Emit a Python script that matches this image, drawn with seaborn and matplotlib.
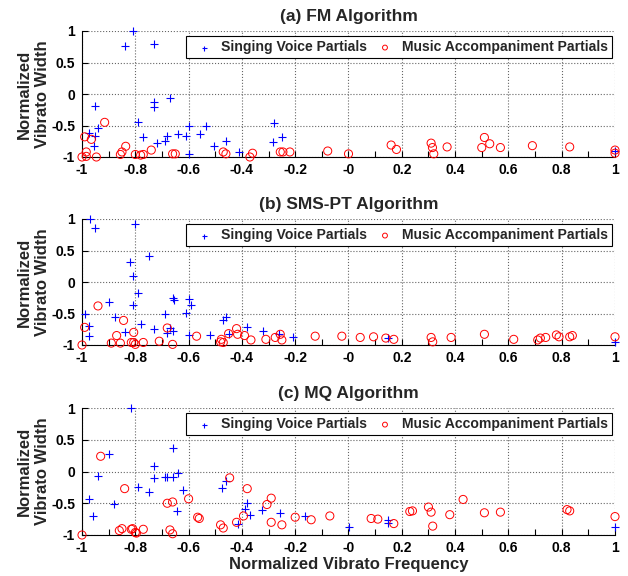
import numpy as np
import matplotlib
matplotlib.use("Agg")
import matplotlib.pyplot as plt
import matplotlib.ticker as mticker
import seaborn as sns

# (a) FM Algorithm
fm_voice_x = [-0.81, -0.84, -0.73, -0.95, -0.73, -0.73, -0.67, -0.79, -0.94, -0.975,
              -0.95, -0.956, -0.77, -0.72, -0.69, -0.68, -0.64, -0.61, -0.60, -0.535,
              -0.556, -0.60, -0.506, -0.46, -0.41, -0.28, -0.285, -0.25, 1.0]
fm_voice_y = [1.0, 0.76, 0.79, -0.19, -0.12, -0.21, -0.06, -0.44, -0.54, -0.62,
              -0.67, -0.83, -0.68, -0.78, -0.74, -0.66, -0.64, -0.67, -0.51, -0.51,
              -0.63, -0.95, -0.82, -0.745, -0.92, -0.46, -0.76, -0.68, -0.9]
fm_music_x = [-0.915, -0.99, -0.965, -1.0, -0.984, -0.984, -0.946, -0.836, -0.856, -0.85,
              -0.80, -0.77, -0.78, -0.74, -0.66, -0.65, -0.47, -0.46, -0.37, -0.36,
              -0.256, -0.246, -0.22, -0.078, 0.0, 0.16, 0.18, 0.31, 0.315, 0.32,
              0.37, 0.51, 0.50, 0.53, 0.57, 0.69, 0.83, 1.0, 1.0]
fm_music_y = [-0.45, -0.68, -0.72, -1.0, -0.92, -0.99, -1.0, -0.83, -0.96, -0.92,
              -0.96, -0.96, -0.97, -0.89, -0.95, -0.95, -0.92, -0.95, -1.0, -0.94,
              -0.92, -0.92, -0.92, -0.905, -0.95, -0.81, -0.88, -0.78, -0.85, -0.95,
              -0.84, -0.69, -0.85, -0.79, -0.85, -0.82, -0.84, -0.89, -0.94]

# (b) SMS-PT Algorithm
sms_voice_x = [-0.97, -0.95, -0.80, -0.75, -0.82, -0.81, -0.79, -0.90, -0.81, -0.99,
               -0.875, -0.975, -0.975, -0.78, -0.84, -0.73, -0.69, -0.68, -0.67, -0.66,
               -0.66, -0.656, -0.60, -0.59, -0.61, -0.60, -0.52, -0.47, -0.46, -0.45,
               -0.38, -0.32, -0.26, -0.21, 0.15, 1.0]
sms_voice_y = [1.0, 0.86, 0.92, 0.42, 0.32, 0.09, -0.17, -0.32, -0.36, -0.5,
               -0.55, -0.70, -0.85, -0.67, -0.80, -0.75, -0.51, -0.81, -0.73, -0.77,
               -0.25, -0.28, -0.27, -0.37, -0.49, -0.84, -0.84, -0.61, -0.55, -0.83,
               -0.71, -0.78, -0.83, -0.88, -0.89, -0.95]
sms_music_x = [-0.94, -0.99, -1.0, -0.844, -0.87, -0.89, -0.856, -0.806, -0.815, -0.806,
               -0.80, -0.77, -0.71, -0.68, -0.66, -0.57, -0.48, -0.477, -0.47, -0.45,
               -0.42, -0.416, -0.39, -0.366, -0.31, -0.275, -0.256, -0.25, -0.125, -0.025,
               0.044, 0.094, 0.14, 0.17, 0.31, 0.316, 0.385, 0.51, 0.62, 0.71,
               0.72, 0.74, 0.78, 0.79, 0.83, 0.84, 1.0]
sms_music_y = [-0.38, -0.72, -1.0, -0.61, -0.85, -0.97, -0.97, -0.80, -0.96, -0.96,
               -0.99, -0.96, -0.94, -0.73, -0.99, -0.86, -0.95, -0.91, -0.96, -0.82,
               -0.74, -0.83, -0.85, -0.92, -0.91, -0.88, -0.83, -0.92, -0.86, -0.86,
               -0.88, -0.87, -0.89, -0.91, -0.88, -0.95, -0.88, -0.83, -0.91, -0.92,
               -0.89, -0.88, -0.84, -0.87, -0.87, -0.85, -0.87]

# (c) MQ Algorithm
mq_voice_x = [-0.816, -0.90, -0.94, -0.975, -0.96, -0.88, -0.79, -0.75, -0.73, -0.73,
              -0.69, -0.68, -0.66, -0.66, -0.64, -0.62, -0.644, -0.475, -0.46, -0.416,
              -0.38, -0.39, -0.37, -0.325, -0.256, -0.165, 0.0, 0.15, 0.15, 1.0]
mq_voice_y = [1.0, 0.27, -0.07, -0.44, -0.70, -0.51, -0.24, -0.33, 0.09, -0.11,
              -0.08, -0.08, -0.08, 0.37, -0.02, -0.29, -0.62, -0.26, -0.15, -0.83,
              -0.49, -0.59, -0.69, -0.61, -0.65, -0.70, -0.88, -0.76, -0.81, -0.88]
mq_music_x = [-0.93, -0.84, -1.0, -0.86, -0.85, -0.815, -0.81, -0.80, -0.796, -0.77,
              -0.68, -0.66, -0.67, -0.66, -0.60, -0.566, -0.56, -0.48, -0.47, -0.446,
              -0.38, -0.42, -0.394, -0.306, -0.29, -0.29, -0.25, -0.2, -0.14, -0.07,
              0.085, 0.11, 0.17, 0.23, 0.24, 0.30, 0.31, 0.316, 0.38, 0.43,
              0.51, 0.57, 0.82, 0.83, 1.0]
mq_music_y = [0.24, -0.27, -1.0, -0.93, -0.90, -0.91, -0.90, -0.96, -0.97, -0.91,
              -0.50, -0.48, -0.92, -0.98, -0.43, -0.72, -0.74, -0.84, -0.89, -0.10,
              -0.27, -0.80, -0.70, -0.52, -0.42, -0.80, -0.84, -0.72, -0.76, -0.70,
              -0.74, -0.75, -0.82, -0.63, -0.62, -0.56, -0.64, -0.86, -0.68, -0.44,
              -0.65, -0.64, -0.60, -0.62, -0.71]

panels = [
    ("(a) FM Algorithm", fm_voice_x, fm_voice_y, fm_music_x, fm_music_y),
    ("(b) SMS-PT Algorithm", sms_voice_x, sms_voice_y, sms_music_x, sms_music_y),
    ("(c) MQ Algorithm", mq_voice_x, mq_voice_y, mq_music_x, mq_music_y),
]

sns.set_style("ticks")
plt.rcParams["font.family"] = ["Liberation Sans", "DejaVu Sans"]
plt.rcParams["font.weight"] = "bold"
plt.rcParams["axes.unicode_minus"] = False

fig = plt.figure(figsize=(6.28, 5.76), dpi=100)
W, H = 628, 576
left, right = 82, 615
tops = [31, 219, 408]
bottoms = [157, 345, 535]

for i, (title, vx, vy, mx, my) in enumerate(panels):
    ax = fig.add_axes([left / W, 1 - bottoms[i] / H, (right - left) / W,
                       (bottoms[i] - tops[i]) / H])
    sns.scatterplot(x=vx, y=vy, marker="+", color="#0000FF", s=36, linewidth=0.8,
                    ax=ax, label="Singing Voice Partials", clip_on=False, zorder=3)
    sns.scatterplot(x=mx, y=my, marker="o", color="#FF0000", facecolor="none",
                    edgecolor="#FF0000", s=34, linewidth=0.7, ax=ax,
                    label="Music Accompaniment Partials", clip_on=False, zorder=3)
    ax.set_xlim(-1, 1)
    ax.set_ylim(-1, 1)
    ax.set_xticks(np.arange(-1, 1.01, 0.2))
    ax.set_yticks([-1, -0.5, 0, 0.5, 1])
    ax.xaxis.set_minor_locator(mticker.MultipleLocator(0.1))
    fmt = mticker.FuncFormatter(lambda v, p: f"{round(v, 2):g}")
    ax.xaxis.set_major_formatter(fmt)
    ax.yaxis.set_major_formatter(fmt)
    ax.tick_params(axis="both", which="both", direction="in", labelsize=10,
                   width=0.8, colors="black")
    ax.tick_params(axis="both", which="major", length=4)
    ax.tick_params(axis="x", which="minor", length=4)
    ax.tick_params(axis="x", pad=4)
    ax.tick_params(axis="y", pad=5)
    for lab in ax.get_xticklabels() + ax.get_yticklabels():
        lab.set_fontweight("bold")
    ax.grid(True, which="major", linestyle=":", color="0.4", linewidth=0.8)
    ax.set_axisbelow(True)
    sns.despine(ax=ax)
    for sp in ("left", "bottom"):
        ax.spines[sp].set_color("black")
        ax.spines[sp].set_linewidth(0.8)
    ax.set_title(title, fontsize=12.5, fontweight="bold", pad=7)
    ax.set_ylabel("Normalized\nVibrato Width", fontsize=12, fontweight="bold",
                  linespacing=1.25)
    ax.yaxis.set_label_coords(-0.06, 0.5)
    if i == 2:
        ax.set_xlabel("Normalized Vibrato Frequency", fontsize=12,
                      fontweight="bold", labelpad=2)
    leg = ax.legend(loc="upper right", bbox_to_anchor=(0.9944, 0.96), ncol=2,
                    prop={"weight": "bold", "size": 10.1},
                    frameon=True, fancybox=False, framealpha=1, edgecolor="black",
                    borderaxespad=0.0, handlelength=2.0, handletextpad=0.2,
                    columnspacing=0.3, borderpad=0.3, markerscale=0.6)
    leg.get_frame().set_linewidth(0.8)

fig.savefig("out.png", dpi=100)
